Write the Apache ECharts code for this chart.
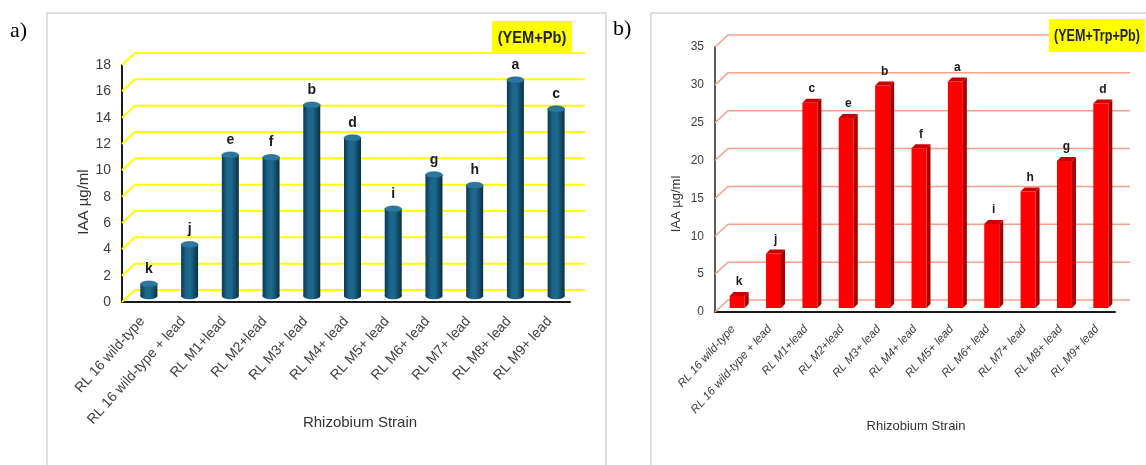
<!DOCTYPE html>
<html><head><meta charset="utf-8">
<script src="https://cdn.jsdelivr.net/npm/echarts/dist/echarts.min.js"></script>
<style>html,body{margin:0;padding:0;background:#fff}#c{width:1146px;height:465px}</style>
</head><body><div id="c"></div>
<script>
const categories = ['RL 16 wild-type','RL 16 wild-type + lead','RL M1+lead','RL M2+lead','RL M3+ lead','RL M4+ lead','RL M5+ lead','RL M6+ lead','RL M7+ lead','RL M8+ lead','RL M9+ lead'];
const valuesA = [0.9, 3.9, 10.7, 10.5, 14.5, 12.0, 6.6, 9.2, 8.4, 16.4, 14.2];
const lettersA = ['k','j','e','f','b','d','i','g','h','a','c'];
const ticksA = [0, 2, 4, 6, 8, 10, 12, 14, 16, 18];
const valuesB = [1.6, 7.2, 27.1, 25.1, 29.4, 21.1, 29.9, 11.1, 15.4, 19.4, 27.0];
const lettersB = ['k','j','c','e','b','f','a','i','h','g','d'];
const ticksB = [0, 5, 10, 15, 20, 25, 30, 35];
const yName = 'IAA µg/ml';
const xName = 'Rhizobium Strain';
const titleA = '(YEM+Pb)';
const titleB = '(YEM+Trp+Pb)';

const DX = 13, DY = 12;
const chart = echarts.init(document.getElementById('c'));

function wallSeries(ticks, xi, color, width) {
  return {
    type: 'custom', xAxisIndex: xi, yAxisIndex: xi, silent: true, z: 1,
    data: ticks.map(v => [0, v]),
    renderItem: (params, api) => {
      const cs = params.coordSys;
      const y = api.coord([0, api.value(1)])[1];
      return {
        type: 'polyline',
        shape: { points: [[cs.x, y], [cs.x + DX, y - DY], [cs.x + cs.width + DX + 2, y - DY]] },
        style: { stroke: color, lineWidth: width, fill: null }
      };
    }
  };
}

const cylGrad = new echarts.graphic.LinearGradient(0, 0, 1, 0, [
  { offset: 0, color: '#0c3850' },
  { offset: 0.3, color: '#1b6589' },
  { offset: 0.55, color: '#1d6a8f' },
  { offset: 1, color: '#0a2f45' }
]);

const seriesCyl = {
  type: 'custom', xAxisIndex: 0, yAxisIndex: 0, z: 3,
  data: valuesA.map((v, i) => [i, v]),
  renderItem: (params, api) => {
    const i = api.value(0), v = api.value(1);
    const top = api.coord([i, v]);
    const base = api.coord([i, 0]);
    const cx = top[0] + 6.5, yT = top[1] - 6, yB = base[1] - 6;
    const w = 17, rx = w / 2, ry = 3.2;
    return {
      type: 'group',
      children: [
        { type: 'rect', shape: { x: cx - rx, y: yT, width: w, height: yB - yT }, style: { fill: cylGrad } },
        { type: 'ellipse', shape: { cx: cx, cy: yB, rx: rx, ry: ry }, style: { fill: cylGrad } },
        { type: 'ellipse', shape: { cx: cx, cy: yT, rx: rx, ry: ry }, style: { fill: '#2a77a0', stroke: '#16536f', lineWidth: 0.5 } },
        { type: 'text', x: cx, y: yT - ry - 5, style: { text: lettersA[params.dataIndex], align: 'center', verticalAlign: 'bottom', textAlign: 'center', textVerticalAlign: 'bottom', fontSize: 14, fontWeight: 'bold', fontFamily: 'Liberation Sans', fill: '#1a1a1a' } }
      ]
    };
  }
};

const seriesBox = {
  type: 'custom', xAxisIndex: 1, yAxisIndex: 1, z: 3,
  data: valuesB.map((v, i) => [i, v]),
  renderItem: (params, api) => {
    const i = api.value(0), v = api.value(1);
    const top = api.coord([i, v]);
    const base = api.coord([i, 0]);
    const w = 15, d = 4;
    const x = top[0] + 4 - w / 2, yT = top[1] - 4, yB = base[1] - 4;
    return {
      type: 'group',
      children: [
        { type: 'polygon', shape: { points: [[x + w, yT], [x + w + d, yT - d], [x + w + d, yB - d], [x + w, yB]] }, style: { fill: '#a80000' } },
        { type: 'polygon', shape: { points: [[x, yT], [x + d, yT - d], [x + w + d, yT - d], [x + w, yT]] }, style: { fill: '#c80000' } },
        { type: 'rect', shape: { x: x, y: yT, width: w, height: yB - yT }, style: { fill: '#ff0000' } },
        { type: 'text', x: x + w / 2 + 2, y: yT - d - 4, style: { text: lettersB[params.dataIndex], align: 'center', verticalAlign: 'bottom', textAlign: 'center', textVerticalAlign: 'bottom', fontSize: 12, fontWeight: 'bold', fontFamily: 'Liberation Sans', fill: '#1a1a1a' } }
      ]
    };
  }
};

const option = {
  animation: false,
  backgroundColor: '#ffffff',
  grid: [
    { left: 122, top: 65, width: 448, height: 237 },
    { left: 715, top: 47, width: 400, height: 265 }
  ],
  xAxis: [
    {
      gridIndex: 0, type: 'category', data: categories, boundaryGap: true,
      axisLine: { show: true, lineStyle: { color: '#1a1a1a', width: 2 } },
      axisTick: { show: false },
      axisLabel: { interval: 0, rotate: 48, margin: 17, fontSize: 14, color: '#404040', fontFamily: 'Liberation Sans' },
      name: xName, nameLocation: 'middle', nameGap: 113, nameMoveOverlap: false,
      nameTextStyle: { fontSize: 15, color: '#333', fontFamily: 'Liberation Sans', padding: [0, 0, 0, 28] }
    },
    {
      gridIndex: 1, type: 'category', data: categories, boundaryGap: true,
      axisLine: { show: true, lineStyle: { color: '#1a1a1a', width: 2 } },
      axisTick: { show: false },
      axisLabel: { interval: 0, rotate: 48, margin: 15, fontSize: 11.5, fontStyle: 'italic', color: '#404040', fontFamily: 'Liberation Sans' },
      name: xName, nameLocation: 'middle', nameGap: 108, nameMoveOverlap: false,
      nameTextStyle: { fontSize: 13, color: '#333', fontFamily: 'Liberation Sans', padding: [0, 0, 0, 2] }
    }
  ],
  yAxis: [
    {
      gridIndex: 0, type: 'value', min: ticksA[0], max: ticksA[ticksA.length - 1], interval: ticksA[1] - ticksA[0],
      axisLine: { show: true, lineStyle: { color: '#1a1a1a', width: 2 } },
      axisTick: { show: false }, splitLine: { show: false },
      axisLabel: { margin: 11, fontSize: 14, color: '#404040', fontFamily: 'Liberation Sans' },
      name: yName, nameLocation: 'middle', nameGap: 31, nameMoveOverlap: false,
      nameTextStyle: { fontSize: 15, color: '#333', fontFamily: 'Liberation Sans', padding: [0, 37, 0, 0] }
    },
    {
      gridIndex: 1, type: 'value', min: ticksB[0], max: ticksB[ticksB.length - 1], interval: ticksB[1] - ticksB[0],
      axisLine: { show: true, lineStyle: { color: '#595959', width: 2 } },
      axisTick: { show: false }, splitLine: { show: false },
      axisLabel: { margin: 11, fontSize: 12, color: '#404040', fontFamily: 'Liberation Sans' },
      name: yName, nameLocation: 'middle', nameGap: 32, nameMoveOverlap: false,
      nameTextStyle: { fontSize: 13, color: '#333', fontFamily: 'Liberation Sans', padding: [0, 49, 0, 0] }
    }
  ],
  graphic: [
    { type: 'rect', z: 0, shape: { x: 47, y: 13, width: 559, height: 470 }, style: { fill: null, stroke: '#d6d6d6', lineWidth: 1.5 } },
    { type: 'rect', z: 0, shape: { x: 651, y: 13, width: 520, height: 470 }, style: { fill: null, stroke: '#d6d6d6', lineWidth: 1.5 } },
    { type: 'text', x: 10, y: 20, style: { text: 'a)', fontSize: 22, fontFamily: 'Liberation Serif', fill: '#000' } },
    { type: 'text', x: 613, y: 18, style: { text: 'b)', fontSize: 22, fontFamily: 'Liberation Serif', fill: '#000' } },
    { type: 'rect', z: 10, shape: { x: 492, y: 21, width: 80, height: 31 }, style: { fill: '#ffff00' } },
    { type: 'text', z: 11, x: 532, y: 38, scaleX: 0.86, style: { text: titleA, align: 'center', verticalAlign: 'middle', textAlign: 'center', textVerticalAlign: 'middle', fontSize: 17, fontWeight: 'bold', fontFamily: 'Liberation Sans', fill: '#222' } },
    { type: 'rect', z: 10, shape: { x: 1049, y: 19, width: 96, height: 33 }, style: { fill: '#ffff00' } },
    { type: 'text', z: 11, x: 1097, y: 36, scaleX: 0.74, style: { text: titleB, align: 'center', verticalAlign: 'middle', textAlign: 'center', textVerticalAlign: 'middle', fontSize: 17, fontWeight: 'bold', fontFamily: 'Liberation Sans', fill: '#222' } }
  ],
  series: [
    wallSeries(ticksA, 0, '#ffff00', 2),
    wallSeries(ticksB, 1, '#f8a08a', 1.5),
    seriesCyl,
    seriesBox
  ]
};
chart.setOption(option);
</script>
</body></html>
